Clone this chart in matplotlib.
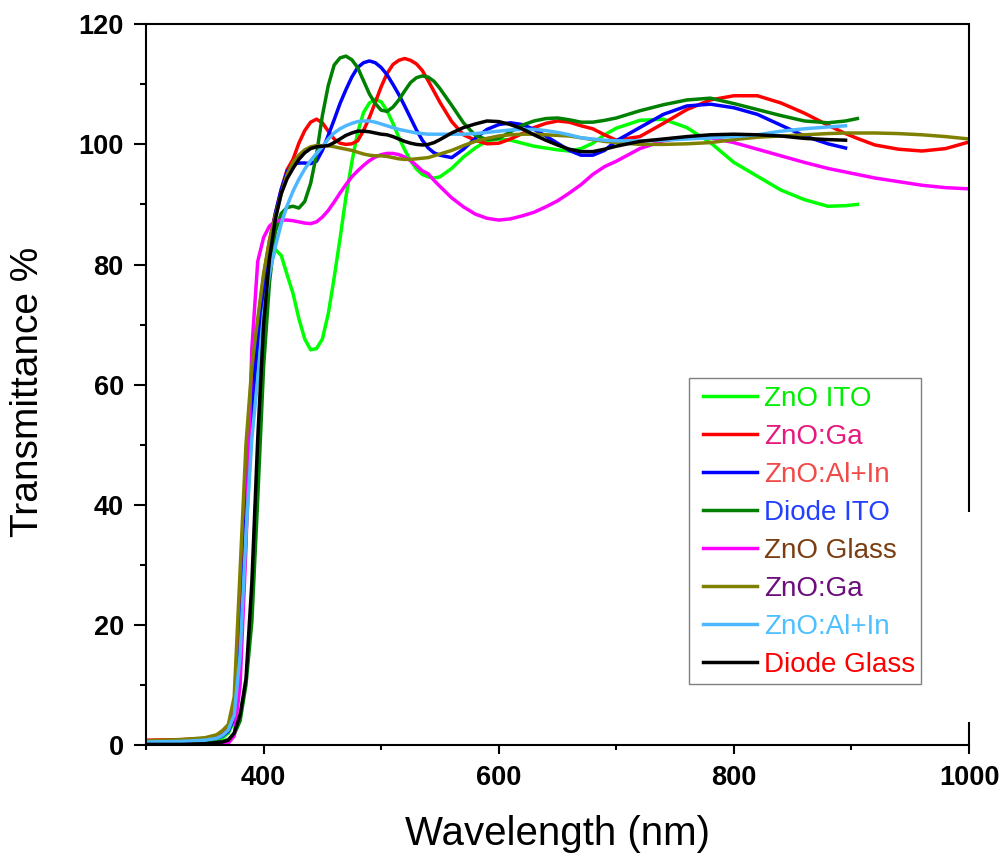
import matplotlib
matplotlib.use("Agg")
import matplotlib.pyplot as plt
from matplotlib.patches import Rectangle
from matplotlib.ticker import MultipleLocator

plt.rcParams['font.family'] = ['Liberation Sans', 'DejaVu Sans']

# Wavelength grid (nm) shared by all spectra
wavelength = [300, 330, 350, 360,
              365, 370, 375, 380, 385, 390, 395, 400,
              405, 410, 415, 420, 425, 430, 435, 440, 445, 450,
              455, 460, 465, 470, 475, 480, 485, 490, 495, 500,
              505, 510, 515, 520, 525, 530, 535, 540, 545, 550,
              560, 570, 580, 590, 600, 610, 620, 630, 640, 650, 660, 670, 680, 690, 700,
              720, 740, 760, 780, 800, 820, 840, 860, 880,
              895, 905,
              920, 940, 960, 980, 1000]

# Transmittance (%) of each sample along the grid
zno_ito = [0.6, 0.7, 0.8, 0.9,
           1.2, 2.0, 4.0, 14, 35, 53, 64, 73,
           79.5, 82.5, 81.5, 78.3, 75.2, 71.0, 67.6, 65.8, 66.0, 67.6,
           71.8, 77.8, 84.3, 91.2, 97.0, 102.0, 105.3, 106.9, 107.5, 107.1,
           105.6, 103.5, 101.2, 99.1, 97.3, 95.9, 95.0, 94.6, 94.4, 94.6,
           96.0, 97.9, 99.4, 100.6, 100.9, 100.7, 100.2, 99.7, 99.4, 99.1, 98.9, 99.3, 100.2, 101.6, 102.7,
           104.0, 104.2, 102.8, 100.3, 97.0, 94.7, 92.4, 90.8, 89.7,
           89.8, 90.0]

zno_ga = [0.8, 0.9, 1.1, 1.6,
          2.2, 3.1, 6.5, 24, 46, 61, 70, 78,
          84, 88.5, 92.5, 95.8, 97.5, 100.2, 102.3, 103.7, 104.2, 103.6,
          102.2, 100.9, 100.2, 100.0, 100.1, 100.6, 102.3, 104.5, 107.0, 109.6,
          111.8, 113.3, 114.0, 114.3, 114.0, 113.4, 112.3, 110.6, 108.8, 107.0,
          103.8, 101.6, 100.7, 100.1, 100.2, 100.9, 101.8, 102.8, 103.5, 103.9, 103.7, 103.1, 102.6, 101.6, 100.7,
          101.3, 103.5, 105.8, 107.4, 108.1, 108.1, 106.9, 105.2, 103.2,
          101.8, 101.0,
          99.9, 99.2, 98.9, 99.3, 100.4]

zno_al_in = [0.5, 0.6, 0.8, 1.1,
             1.5, 2.3, 4.5, 16, 38, 56, 67, 76,
             83, 88.5, 92.5, 95.5, 96.7, 96.9, 96.9, 96.8, 97.2, 99.0,
             101.5, 104.1, 106.8, 109.1, 111.2, 112.8, 113.6, 113.9, 113.6, 112.8,
             111.6, 110.0, 108.3, 106.4, 104.4, 102.4, 100.7, 99.4, 98.6, 98.2,
             97.8, 99.2, 101.0, 102.5, 103.3, 103.6, 103.3, 102.5, 101.4, 100.2, 99.0, 98.2, 98.2, 99.0, 100.6,
             102.8, 105.0, 106.4, 106.7, 106.1, 105.0, 103.2, 101.4, 100.1,
             99.4]

diode_ito = [0.3, 0.4, 0.5, 0.5,
             0.6, 0.9, 1.8, 4, 10, 20.5, 41, 63,
             77, 85.5, 88.5, 89.5, 89.7, 89.4, 90.5, 93.5, 98.3, 104.8,
             109.8, 113.2, 114.4, 114.7, 114.1, 112.8, 110.6, 108.4, 106.8, 105.7,
             105.5, 106.2, 107.4, 108.9, 110.3, 111.1, 111.4, 111.2, 110.5, 109.3,
             106.5, 103.6, 101.5, 100.8, 101.0, 102.1, 103.2, 103.9, 104.3, 104.4, 104.1, 103.7, 103.7, 104.0, 104.4,
             105.6, 106.6, 107.4, 107.7, 106.8, 105.8, 104.8, 103.9, 103.6,
             103.9, 104.3]

zno_glass = [0.1, 0.1, 0.1, 0.1,
             0.15, 0.3, 1.5, 10, 33, 66, 80.5, 84.5,
             86.4, 87.2, 87.4, 87.4, 87.3, 87.1, 86.9, 86.8, 87.1, 87.9,
             89.0, 90.4, 91.9, 93.3, 94.6, 95.6, 96.5, 97.3, 97.9, 98.3,
             98.5, 98.5, 98.3, 97.9, 97.3, 96.5, 95.6, 95.1, 94.0, 93.0,
             91.1, 89.6, 88.4, 87.7, 87.4, 87.6, 88.1, 88.7, 89.6, 90.6, 91.9, 93.3, 95.0, 96.3, 97.2,
             99.3, 100.6, 101.2, 101.1, 100.3, 99.2, 98.1, 97.0, 96.0,
             95.4, 95.0,
             94.4, 93.8, 93.2, 92.8, 92.6]

zno_ga_glass = [0.7, 0.9, 1.2, 1.7,
                2.4, 3.4, 8, 29, 50, 63, 71, 78.5,
                84, 88, 91.8, 95.0, 97.0, 98.2, 99.1, 99.6, 99.8, 99.8,
                99.8, 99.6, 99.4, 99.2, 99.0, 98.7, 98.4, 98.2, 98.1, 98.1,
                98.0, 97.8, 97.6, 97.5, 97.5, 97.6, 97.7, 97.8, 98.1, 98.4,
                99.0, 99.8, 100.5, 101.0, 101.4, 101.6, 101.7, 101.7, 101.6, 101.5, 101.4, 101.1, 100.8, 100.5, 100.3,
                100.0, 100.0, 100.1, 100.3, 100.8, 101.2, 101.4, 101.6, 101.8,
                101.9, 101.9,
                101.9, 101.8, 101.6, 101.3, 100.9]

zno_al_in_glass = [0.5, 0.6, 0.8, 1.1,
                   1.6, 2.5, 5, 15, 35, 51, 61, 72,
                   78.5, 83, 86.8, 89.8, 92.2, 94.2, 95.9, 97.3, 98.5, 99.6,
                   100.9, 101.9, 102.6, 103.1, 103.5, 103.8, 103.9, 103.9, 103.7, 103.4,
                   103.1, 102.8, 102.5, 102.3, 102.1, 101.9, 101.8, 101.7, 101.7, 101.7,
                   101.7, 101.7, 101.8, 102.0, 102.2, 102.4, 102.5, 102.5, 102.3, 102.0, 101.6, 101.1, 100.9, 100.7, 100.6,
                   100.6, 100.7, 100.9, 101.1, 101.3, 101.6, 102.2, 102.6, 102.9,
                   103.1]

diode_glass = [0.1, 0.1, 0.2, 0.4,
               0.5, 0.8, 2, 5, 11, 27, 51, 70,
               81, 87.5, 91.8, 94.3, 96.0, 97.5, 98.6, 99.3, 99.6, 99.7,
               99.8, 100.3, 100.9, 101.5, 101.9, 102.2, 102.2, 102.1, 101.9, 101.7,
               101.6, 101.3, 100.9, 100.5, 100.2, 100.0, 99.9, 100.0, 100.3, 100.8,
               101.9, 102.8, 103.4, 103.9, 103.8, 103.3, 102.6, 101.6, 100.7, 99.9, 99.2, 98.8, 98.8, 99.2, 99.7,
               100.5, 100.9, 101.3, 101.6, 101.7, 101.6, 101.4, 101.0, 100.8,
               100.7]

series = [zno_ito, zno_ga, zno_al_in, diode_ito,
          zno_glass, zno_ga_glass, zno_al_in_glass, diode_glass]
labels = ["ZnO ITO", "ZnO:Ga", "ZnO:Al+In", "Diode ITO",
          "ZnO Glass", "ZnO:Ga", "ZnO:Al+In", "Diode Glass"]
line_colors = ["#00FF00", "#FF0000", "#0000FF", "#008000",
               "#FF00FF", "#808000", "#4DB8FF", "#000000"]
label_colors = ["#00EE00", "#E6197E", "#F24949", "#2140FF",
                "#7A3E12", "#6C0E7C", "#4FC0FF", "#FF0000"]

x_ticks = [400, 600, 800, 1000]
y_ticks = [0, 20, 40, 60, 80, 100, 120]

fig = plt.figure(figsize=(10.05, 8.58), dpi=100)
ax = fig.add_axes([0.1453, 0.1317, 0.8189, 0.8400])

for vals, lab, col in zip(series, labels, line_colors):
    ax.plot(wavelength[:len(vals)], vals, color=col, lw=2.5, label=lab,
            solid_joinstyle='round')

ax.set_xlim(300, 1000)
ax.set_ylim(0, 120)
ax.set_xticks(x_ticks)
ax.set_yticks(y_ticks)
ax.xaxis.set_minor_locator(MultipleLocator(100))
ax.yaxis.set_minor_locator(MultipleLocator(10))

for s in ("left", "bottom", "top"):
    ax.spines[s].set_linewidth(1.5)
ax.spines["right"].set_visible(False)
# right frame edge, drawn in two pieces
ax.plot([1, 1], [0.323, 1.0], transform=ax.transAxes, color="black",
        lw=1.5, clip_on=False, solid_capstyle="butt")
ax.plot([1, 1], [0.0, 0.032], transform=ax.transAxes, color="black",
        lw=1.5, clip_on=False, solid_capstyle="butt")

ax.tick_params(axis="y", which="major", direction="out", length=9, width=1.5, pad=7)
ax.tick_params(axis="y", which="minor", direction="out", length=4, width=1.5)
ax.tick_params(axis="x", which="major", direction="out", length=6.5, width=1.5, pad=8)
ax.tick_params(axis="x", which="minor", direction="out", length=3.6, width=1.5)
for t in ax.get_xticklabels() + ax.get_yticklabels():
    t.set_fontweight("bold")
    t.set_fontsize(19.5)

ax.set_xlabel("Wavelength (nm)", fontsize=29)
ax.set_ylabel("Transmittance %", fontsize=28)
ax.xaxis.set_label_coords(0.5, -0.097)
ax.yaxis.set_label_coords(-0.121, 0.49)

# legend box outline
ax.add_patch(Rectangle((0.6598, 0.0846), 0.2819, 0.4246, transform=ax.transAxes,
                       fill=True, facecolor="white", edgecolor="#7F7F7F",
                       lw=1.0, zorder=4))
leg = ax.legend(loc="upper left", bbox_to_anchor=(0.6768, 0.4981), borderaxespad=0,
                fontsize=20, handlelength=1.94, handletextpad=0.25,
                labelspacing=0.43, borderpad=0, frameon=False)
leg.set_zorder(5)
for txt, c in zip(leg.get_texts(), label_colors):
    txt.set_color(c)
for h in leg.get_lines():
    h.set_linewidth(2.5)

fig.savefig("out.png", dpi=100)
